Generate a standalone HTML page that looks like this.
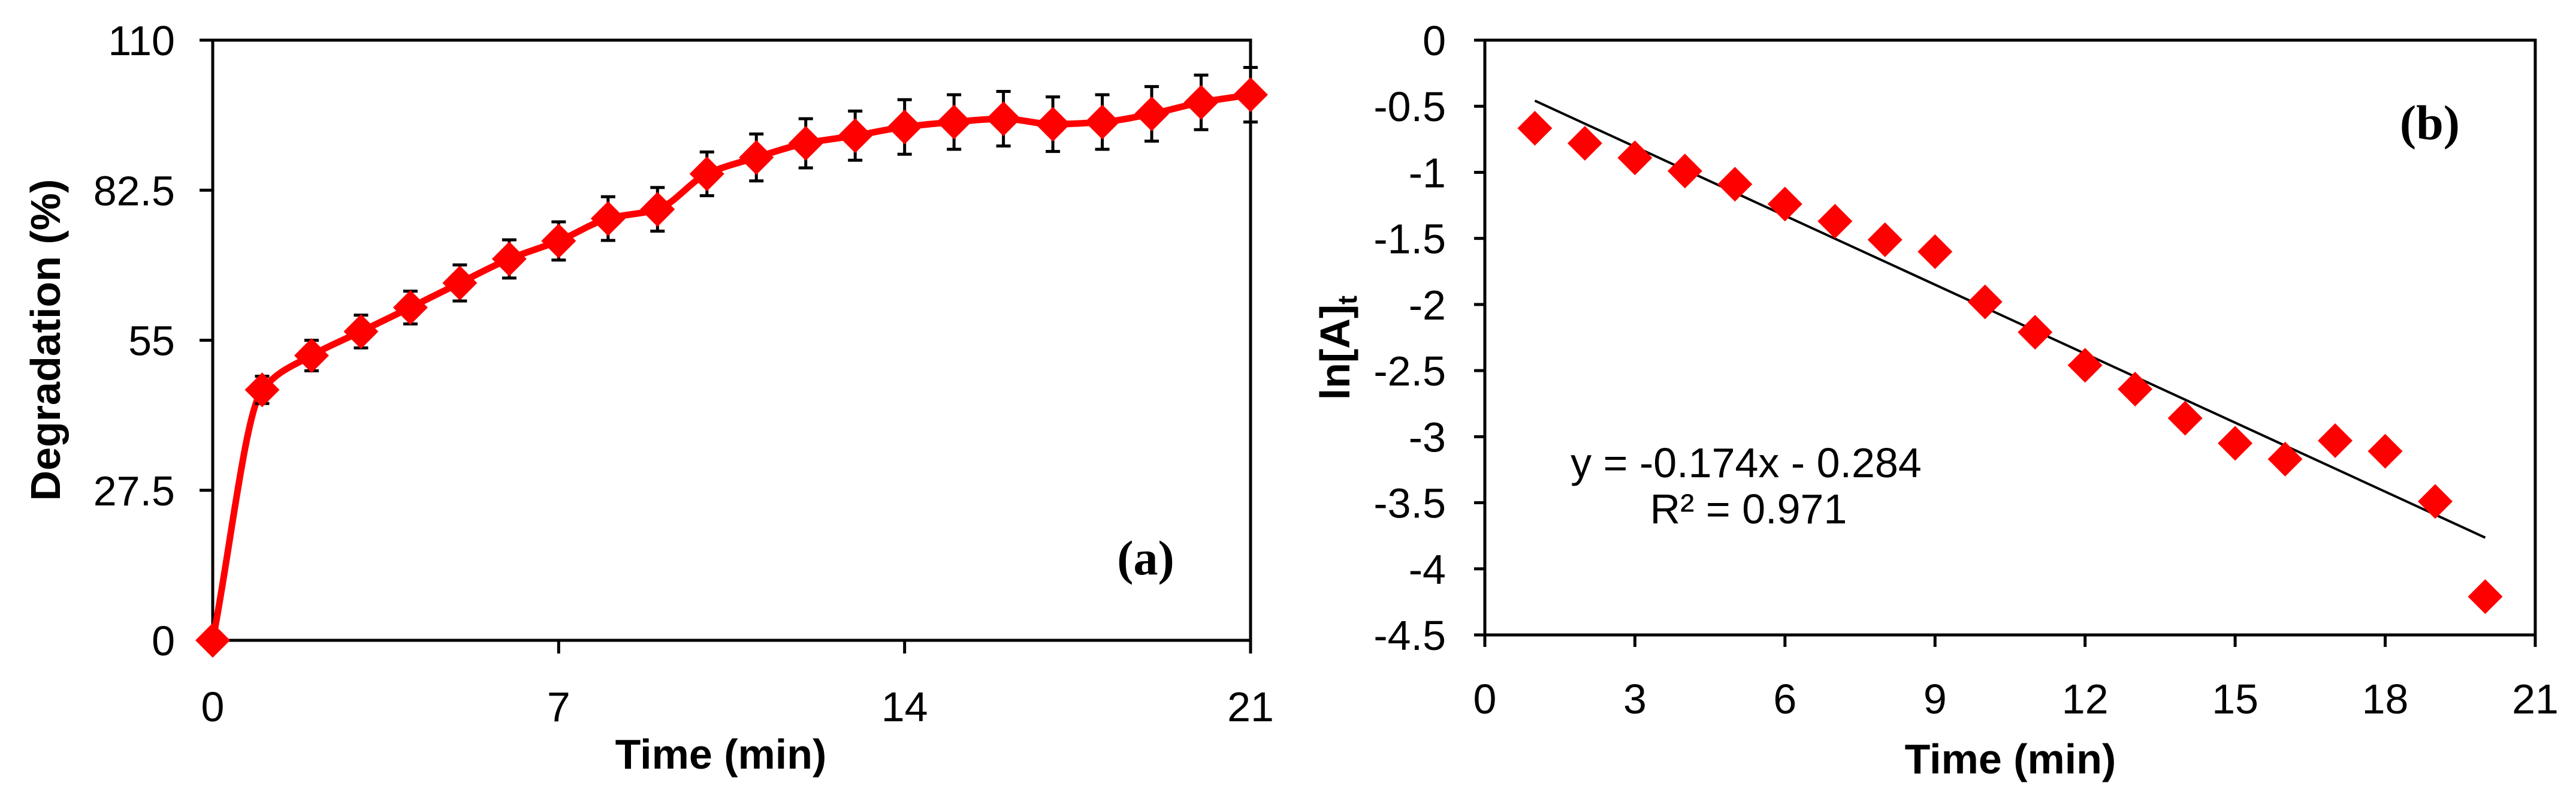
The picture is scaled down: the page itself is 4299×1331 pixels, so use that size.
<!DOCTYPE html>
<html><head><meta charset="utf-8"><style>
html,body{margin:0;padding:0;background:#fff}
svg{display:block}
text{font-family:"Liberation Sans",Arial,sans-serif;fill:#000}
</style></head><body>
<svg id="s" width="4299" height="1331" viewBox="0 0 4299 1331" xmlns="http://www.w3.org/2000/svg">
<g id="ga"></g>
<g id="gb"></g>
</svg>
<script>
// Chart (a) data
const aTime = [0,1,2,3,4,5,6,7,8,9,10,11,12,13,14,15,16,17,18,19,20,21];
const aDeg = [0,45.9,52.2,56.6,61,65.5,69.9,73.2,77.3,79,85.5,88.5,91.1,92.5,94.1,95,95.6,94.6,95,96.5,98.6,100];
const aErr = [0,2.5,2.8,3,3,3.3,3.5,3.5,4,4,4,4.3,4.5,4.5,5,5,5,5,5,5,5,5];
const aXTicks = [0,7,14,21];
const aYTicks = [0,27.5,55,82.5,110];
// Chart (b) data
const bTime = [1,2,3,4,5,6,7,8,9,10,11,12,13,14,15,16,17,18,19,20];
const bLn = [-0.666,-0.78,-0.89,-0.99,-1.09,-1.24,-1.37,-1.51,-1.6,-1.98,-2.21,-2.46,-2.64,-2.86,-3.05,-3.17,-3.03,-3.11,-3.49,-4.21];
const bXTicks = [0,3,6,9,12,15,18,21];
const bYTicks = [0,-0.5,-1,-1.5,-2,-2.5,-3,-3.5,-4,-4.5];
const bSlope = -0.174, bIntercept = -0.284;

const NS="http://www.w3.org/2000/svg";
function mk(parent,tag,attrs,txt){const e=document.createElementNS(NS,tag);for(const k in attrs)e.setAttribute(k,attrs[k]);if(txt!==undefined)e.textContent=txt;parent.appendChild(e);return e;}
function diamond(g,cx,cy){return mk(g,'path',{d:`M${cx} ${cy-29}L${cx+29} ${cy}L${cx} ${cy+29}L${cx-29} ${cy}Z`,fill:'#ff0000'});}

// ---- chart a
(function(){
const g=document.getElementById('ga');
const L=355,R=2087,T=67,B=1068;
const sx=v=>L+(v-0)/(21-0)*(R-L), sy=v=>B-(v-0)/(110-0)*(B-T);
let r=mk(g,'rect',{x:L,y:T,width:R-L,height:B-T,fill:'none',stroke:'#000','stroke-width':5});

aYTicks.forEach(v=>{mk(g,'line',{x1:L-22,x2:L,y1:sy(v),y2:sy(v),stroke:'#000','stroke-width':5});
 const t=mk(g,'text',{x:292,y:sy(v)+25,'text-anchor':'end','font-size':70},String(v));
 });
aXTicks.forEach(v=>{mk(g,'line',{x1:sx(v),x2:sx(v),y1:B,y2:B+22,stroke:'#000','stroke-width':5});
 const t=mk(g,'text',{x:sx(v),y:1203,'text-anchor':'middle','font-size':70},String(v));
 });
// monotone cubic smooth line
const P=aTime.map((t,i)=>[sx(t),sy(aDeg[i])]);
const n=P.length, dl=[], m=[];
for(let i=0;i<n-1;i++) dl.push((P[i+1][1]-P[i][1])/(P[i+1][0]-P[i][0]));
for(let i=0;i<n;i++){ if(i===0) m.push(dl[0]); else if(i===n-1) m.push(dl[n-2]);
 else m.push(dl[i-1]*dl[i]<=0?0:2/(1/dl[i-1]+1/dl[i])); }
let d=`M${P[0][0]} ${P[0][1]}`;
for(let i=0;i<n-1;i++){const h=(P[i+1][0]-P[i][0])/3;
 d+=`C${P[i][0]+h} ${P[i][1]+m[i]*h} ${P[i+1][0]-h} ${P[i+1][1]-m[i+1]*h} ${P[i+1][0]} ${P[i+1][1]}`;}
const ln=mk(g,'path',{d:d,fill:'none',stroke:'#ff0000','stroke-width':11,'stroke-linejoin':'round'});

aTime.forEach((t,i)=>{ if(aErr[i]>0){const x=sx(t),y1=sy(aDeg[i]+aErr[i]),y2=sy(aDeg[i]-aErr[i]);
 const eb=mk(g,'path',{d:`M${x} ${y1}V${y2}M${x-12} ${y1}H${x+12}M${x-12} ${y2}H${x+12}`,stroke:'#000','stroke-width':5,fill:'none'});
 }});
aTime.forEach((t,i)=>{const mm=diamond(g,sx(t),sy(aDeg[i]));
 });
let t=mk(g,'text',{x:0,y:0,transform:'translate(100,567) rotate(-90)','text-anchor':'middle','font-size':70,'font-weight':'bold'},'Degradation (%)');

t=mk(g,'text',{x:1203,y:1282,'text-anchor':'middle','font-size':70,'font-weight':'bold'},'Time (min)');

t=mk(g,'text',{x:1912,y:958,'text-anchor':'middle','font-size':82,'font-weight':'bold','style':'font-family:"Liberation Serif",serif'},'(a)');

})();

// ---- chart b
(function(){
const g=document.getElementById('gb');
const L=2478,R=4231,T=67,B=1059;
const sx=v=>L+(v-0)/(21-0)*(R-L), sy=v=>T+(0-v)/(4.5)*(B-T);
let r=mk(g,'rect',{x:L,y:T,width:R-L,height:B-T,fill:'none',stroke:'#000','stroke-width':5});

bYTicks.forEach(v=>{mk(g,'line',{x1:L-18,x2:L,y1:sy(v),y2:sy(v),stroke:'#000','stroke-width':5});
 const t=mk(g,'text',{x:2413,y:sy(v)+25,'text-anchor':'end','font-size':70},String(v));
 });
bXTicks.forEach(v=>{mk(g,'line',{x1:sx(v),x2:sx(v),y1:B,y2:B+20,stroke:'#000','stroke-width':5});
 const t=mk(g,'text',{x:sx(v),y:1190,'text-anchor':'middle','font-size':70},String(v));
 });
const x0=bTime[0],x1=bTime[bTime.length-1];
const tl=mk(g,'line',{x1:sx(x0),y1:sy(bSlope*x0+bIntercept),x2:sx(x1),y2:sy(bSlope*x1+bIntercept),stroke:'#000','stroke-width':4});

bTime.forEach((t,i)=>{const m=diamond(g,sx(t),sy(bLn[i]));
 });
let t=mk(g,'text',{x:0,y:0,transform:'translate(2252,580) rotate(-90)','text-anchor':'middle','font-size':70,'font-weight':'bold'});
t.innerHTML='ln[A]<tspan font-size="45" dy="12">t</tspan>';

t=mk(g,'text',{x:3355,y:1290,'text-anchor':'middle','font-size':70,'font-weight':'bold'},'Time (min)');

t=mk(g,'text',{x:2914,y:796,'text-anchor':'middle','font-size':70},'y = -0.174x - 0.284');

t=mk(g,'text',{x:2918,y:873,'text-anchor':'middle','font-size':70},'R² = 0.971');

t=mk(g,'text',{x:4055,y:232,'text-anchor':'middle','font-size':82,'font-weight':'bold','style':'font-family:"Liberation Serif",serif'},'(b)');

})();
</script>
</body></html>
